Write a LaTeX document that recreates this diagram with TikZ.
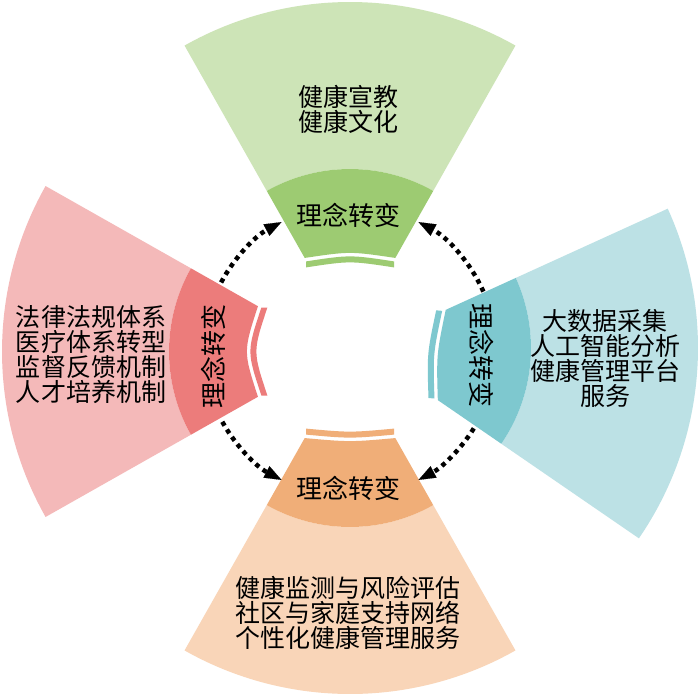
\documentclass[tikz,border=0pt]{standalone}
\usepackage{fontspec}
\newfontfamily\cjk{Noto Sans CJK SC}
\usetikzlibrary{arrows.meta}
\definecolor{greenL}{RGB}{205,228,183}
\definecolor{greenD}{RGB}{157,203,114}
\definecolor{redL}{RGB}{244,185,185}
\definecolor{redD}{RGB}{236,124,123}
\definecolor{blueL}{RGB}{188,225,229}
\definecolor{blueD}{RGB}{126,200,207}
\definecolor{orangeL}{RGB}{249,213,184}
\definecolor{orangeD}{RGB}{240,174,120}
\newcommand\drawpetal[5]{%
 \begin{scope}[shift={#1},rotate=#2]
  \pgfmathsetmacro\ctrlD{80.1+4*#3/3}
  \pgfmathsetmacro\ctrlO{76.6+4*#3/3}
  \pgfmathsetmacro\ctrlI{70.6+4*#3/3}
  \fill[#4] (60.5:169) -- (60.5:336) arc[start angle=60.5,end angle=119.5,radius=336]
    -- (119.5:169) arc[start angle=119.5,end angle=60.5,radius=169] -- cycle;
  \fill[#5] (60.5:92) -- (60.5:169) arc[start angle=60.5,end angle=119.5,radius=169]
    -- (119.5:92) .. controls (0,\ctrlD) .. (60.5:92) -- cycle;
  \fill[#5] (44,76.6) .. controls (0,\ctrlO) .. (-44,76.6) -- (-44,70.6)
    .. controls (0,\ctrlI) .. (44,70.6) -- cycle;
 \end{scope}}
\begin{document}
\begin{tikzpicture}[x=1pt,y=1pt,
  body/.style={inner sep=0pt,align=center,text=black,
    font={\cjk\fontsize{25}{25}\selectfont\lineskiplimit=-20pt}},
  lab/.style={inner sep=0pt,text=black,font={\cjk\fontsize{26}{26}\selectfont}},
  flow/.style={line width=4.5pt,dash pattern=on 4.5pt off 4.5pt,
    -{Triangle[length=17pt 0 0,width=13pt 0 0,line width=0.1pt]}}]
\useasboundingbox (0,0) rectangle (700,-699);
\fill[white] (0,0) rectangle (700,-699);
\drawpetal{(350,-338)}{0}{5}{greenL}{greenD}
\drawpetal{(338,-351.5)}{90}{11}{redL}{redD}
\drawpetal{(350,-358)}{180}{3}{orangeL}{orangeD}
\drawpetal{(362,-348)}{-95}{-4}{blueL}{blueD}
% texts
\node[body] (tT) at (348,-109.5) {健康宣教\\健康文化};
\node[lab] (tL) at (348,-215) {理念转变};
\node[body] (lT) at (91,-355) {法律法规体系\\医疗体系转型\\监督反馈机制\\人才培养机制};
\node[lab,rotate=90] (lL) at (213,-356) {理念转变};
\node[body] (rT) at (605,-358) {大数据采集\\人工智能分析\\健康管理平台\\服务};
\node[lab,rotate=-90] (rL) at (482,-355) {理念转变};
\node[lab] (bL) at (348,-488) {理念转变};
\node[body] (bT) at (348,-613) {健康监测与风险评估\\社区与家庭支持网络\\个性化健康管理服务};
% arrows
\coordinate (O) at (350,-351);
\path (O) ++(152:146) coordinate (a1);
\path (O) ++(24:146) coordinate (a2);
\path (O) ++(-32:146) coordinate (a3);
\path (O) ++(-151:146) coordinate (a4);
\draw[flow] (a1) arc[start angle=152,end angle=118,radius=146];
\draw[flow] (a2) arc[start angle=24,end angle=62,radius=146];
\draw[flow] (a3) arc[start angle=-32,end angle=-62,radius=146];
\draw[flow] (a4) arc[start angle=-151,end angle=-118,radius=146];
\end{tikzpicture}
\end{document}
